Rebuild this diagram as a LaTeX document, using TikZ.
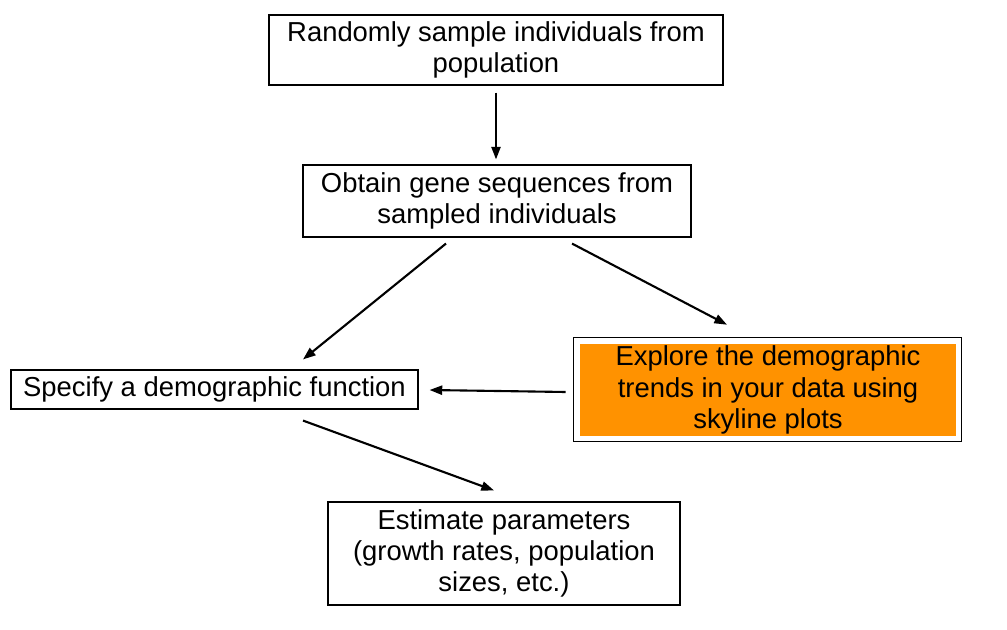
\documentclass[tikz,border=0pt]{standalone}
\usepackage{fontspec}
\setmainfont{Liberation Sans}
\usepackage{tikz}
\usetikzlibrary{calc,arrows.meta}
\definecolor{skyorange}{RGB}{255,146,0}

\begin{document}
\begin{tikzpicture}[x=0.025cm,y=-0.025cm,
  every node/.style={font=\fontsize{19.5}{22.2}\selectfont,align=center,inner sep=0pt},
  stepbox/.style={draw,line width=0.8pt,fill=white},
  flow/.style={line width=1.5pt,-{Triangle[length=9pt,width=6.5pt]}}]
\useasboundingbox (0,0) rectangle (1007,630);
\node[stepbox,minimum width=454*0.025cm,minimum height=70*0.025cm] (sample) at (496,50) {Randomly sample individuals from\\population};
\node[stepbox,minimum width=388*0.025cm,minimum height=72*0.025cm] (obtain) at (497,201) {Obtain gene sequences from\\sampled individuals};
\node[stepbox,minimum width=407*0.025cm,minimum height=39*0.025cm] (specify) at (214.5,389.5) {Specify a demographic function};
\node[fill=skyorange,minimum width=376*0.025cm,minimum height=92*0.025cm] (explore) at (768,390) {Explore the demographic\\trends in your data using\\skyline plots};
\draw[line width=0.8pt] ($(explore.south west)+(-6,5)$) rectangle ($(explore.north east)+(5,-6)$);
\node[stepbox,minimum width=352*0.025cm,minimum height=103*0.025cm] (estimate) at (504,553.5) {Estimate parameters\\(growth rates, population\\sizes, etc.)};
% arrows
\draw[flow] ($(sample.south)+(0,7)$) -- ($(obtain.north)+(-1,-5)$);
\draw[flow] ($(obtain.south)+(-51,6)$) -- ($(specify.north)+(88.5,-10)$);
\draw[flow] ($(obtain.south)+(75,6)$) -- ($(explore.north)+(-41,-19)$);
\draw[flow] ($(explore.west)+(-14,2)$) -- ($(specify.east)+(11,0.5)$);
\draw[flow] ($(specify.south)+(88.5,11)$) -- ($(estimate.north)+(-10,-11)$);
\end{tikzpicture}
\end{document}
